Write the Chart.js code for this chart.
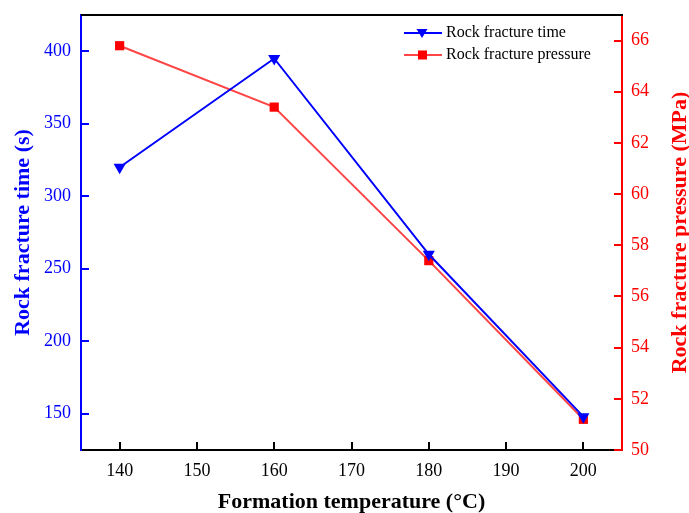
<!DOCTYPE html>
<html>
<head>
<meta charset="utf-8">
<script src="https://cdn.jsdelivr.net/npm/chart.js@4/dist/chart.umd.min.js"></script>
<style>
html,body{margin:0;padding:0;background:#fff;}
canvas{display:block;}
</style>
</head>
<body>
<canvas id="c" width="689" height="513"></canvas>
<script>
// ---- data ----
const temperatures = [140, 160, 180, 200];
const fractureTime = [320, 395, 260, 148];
const fracturePressure = [65.8, 63.4, 57.4, 51.2];
const xTicks = [140, 150, 160, 170, 180, 190, 200];
const leftTicks = [150, 200, 250, 300, 350, 400];
const rightTicks = [50, 52, 54, 56, 58, 60, 62, 64, 66];
const seriesNames = ['Rock fracture time', 'Rock fracture pressure'];
const xTitle = 'Formation temperature (\u00B0C)';
const leftTitle = 'Rock fracture time (s)';
const rightTitle = 'Rock fracture pressure (MPa)';

const BLUE = '#0000ff';
const RED = '#ff0000';
const RED_LINE = '#ff4545';
const FONT = "'Liberation Serif', 'Times New Roman', serif";

function zeroPad(s) { s.paddingTop = 0; s.paddingBottom = 0; s.paddingLeft = 0; s.paddingRight = 0; }

const decor = {
  id: 'decor',
  afterDatasetsDraw(chart) {
    const ctx = chart.ctx;
    const a = chart.chartArea;
    const sx = chart.scales.x, sl = chart.scales.y, sr = chart.scales.y1;
    ctx.save();
    // top border
    ctx.strokeStyle = '#000';
    ctx.lineWidth = 2;
    ctx.beginPath(); ctx.moveTo(a.left, a.top); ctx.lineTo(a.right + 1, a.top); ctx.stroke();
    // inward ticks
    const L = 8;
    ctx.lineWidth = 2;
    ctx.strokeStyle = '#000';
    sx.ticks.forEach(t => {
      const p = Math.round(sx.getPixelForValue(t.value));
      ctx.beginPath(); ctx.moveTo(p, a.bottom); ctx.lineTo(p, a.bottom - L); ctx.stroke();
    });
    ctx.strokeStyle = BLUE;
    sl.ticks.forEach(t => {
      const p = Math.round(sl.getPixelForValue(t.value));
      ctx.beginPath(); ctx.moveTo(a.left, p); ctx.lineTo(a.left + L, p); ctx.stroke();
    });
    ctx.strokeStyle = RED;
    sr.ticks.forEach(t => {
      const p = Math.round(sr.getPixelForValue(t.value));
      ctx.beginPath(); ctx.moveTo(a.right, p); ctx.lineTo(a.right - L, p); ctx.stroke();
    });
    // axis titles
    ctx.font = "bold 22px " + FONT;
    ctx.textAlign = 'center';
    ctx.textBaseline = 'middle';
    ctx.fillStyle = '#000';
    ctx.fillText(xTitle, (a.left + a.right) / 2, 502);
    const cy = (a.top + a.bottom) / 2;
    ctx.save();
    ctx.translate(23, cy); ctx.rotate(-Math.PI / 2);
    ctx.fillStyle = BLUE; ctx.fillText(leftTitle, 0, 0);
    ctx.restore();
    ctx.save();
    ctx.translate(680, cy); ctx.rotate(-Math.PI / 2);
    ctx.fillStyle = RED; ctx.fillText(rightTitle, 0, 0);
    ctx.restore();
    // legend
    const items = [
      {name: seriesNames[0], line: BLUE, fill: BLUE, style: 'tri', y: 33},
      {name: seriesNames[1], line: RED_LINE, fill: RED, style: 'sq', y: 55}
    ];
    ctx.font = "16px " + FONT;
    ctx.textAlign = 'left';
    items.forEach(it => {
      ctx.strokeStyle = it.line; ctx.lineWidth = 2;
      ctx.beginPath(); ctx.moveTo(404, it.y); ctx.lineTo(442, it.y); ctx.stroke();
      ctx.fillStyle = it.fill;
      if (it.style === 'tri') {
        ctx.beginPath();
        ctx.moveTo(416.5, it.y - 4); ctx.lineTo(427.5, it.y - 4); ctx.lineTo(422, it.y + 5);
        ctx.closePath(); ctx.fill();
      } else {
        ctx.fillRect(418, it.y - 4.5, 9, 9);
      }
      ctx.fillStyle = '#000';
      ctx.fillText(it.name, 446, it.y);
    });
    ctx.restore();
  }
};

new Chart(document.getElementById('c'), {
  type: 'line',
  data: {
    datasets: [
      {
        label: seriesNames[0],
        data: temperatures.map((t, i) => ({x: t, y: fractureTime[i]})),
        yAxisID: 'y',
        borderColor: BLUE,
        backgroundColor: BLUE,
        borderWidth: 2,
        pointStyle: 'triangle',
        rotation: 180,
        pointRadius: 7,
        pointBorderWidth: 0,
        tension: 0,
        clip: false
      },
      {
        label: seriesNames[1],
        data: temperatures.map((t, i) => ({x: t, y: fracturePressure[i]})),
        yAxisID: 'y1',
        borderColor: RED_LINE,
        backgroundColor: RED,
        pointBackgroundColor: RED,
        borderWidth: 2,
        pointStyle: 'rect',
        pointRadius: 6.5,
        pointBorderWidth: 0,
        tension: 0,
        clip: false
      }
    ]
  },
  options: {
    responsive: false,
    animation: false,
    devicePixelRatio: 1,
    layout: {padding: {top: 15, left: 0, right: 0, bottom: 0}},
    plugins: {legend: {display: false}, tooltip: {enabled: false}},
    scales: {
      x: {
        type: 'linear', position: 'bottom', min: 135, max: 205,
        afterFit(s) { s.height = 63; zeroPad(s); },
        afterBuildTicks(s) { s.ticks = xTicks.map(v => ({value: v})); },
        grid: {display: false, drawTicks: false},
        border: {display: true, color: '#000', width: 2},
        ticks: {padding: 10, color: '#000', font: {family: FONT, size: 18}, includeBounds: false}
      },
      y: {
        type: 'linear', position: 'left', min: 125, max: 425,
        afterFit(s) { s.width = 81; zeroPad(s); },
        afterBuildTicks(s) { s.ticks = leftTicks.map(v => ({value: v})); },
        grid: {display: false, drawTicks: false},
        border: {display: true, color: BLUE, width: 2},
        ticks: {padding: 10, color: BLUE, font: {family: FONT, size: 18}, includeBounds: false}
      },
      y1: {
        type: 'linear', position: 'right', min: 50, max: 67,
        afterFit(s) { s.width = 67; zeroPad(s); },
        afterBuildTicks(s) { s.ticks = rightTicks.map(v => ({value: v})); },
        grid: {display: false, drawTicks: false},
        border: {display: true, color: RED, width: 2},
        ticks: {padding: 9, color: RED, font: {family: FONT, size: 18}, includeBounds: false}
      }
    }
  },
  plugins: [decor]
});
</script>
</body>
</html>
